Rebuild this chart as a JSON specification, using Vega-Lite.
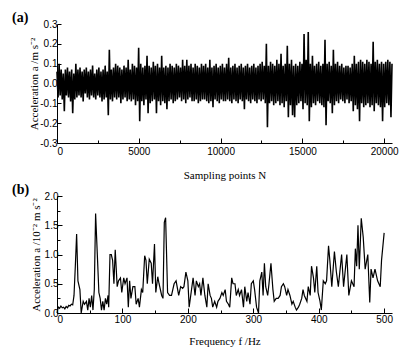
{
"$schema": "https://vega.github.io/schema/vega-lite/v6.json",
"background": "white",
"padding": {"left": 12, "top": 11, "right": 5, "bottom": 5},
"config": {
  "view": {"stroke": null},
  "font": "Liberation Serif",
  "axis": {"domainColor": "black", "tickColor": "black", "labelColor": "black", "titleColor": "black", "labelFont": "Liberation Sans", "labelFontSize": 10, "titleFont": "Liberation Serif", "titleFontSize": 11, "titleFontWeight": "normal", "grid": false, "domainWidth": 1, "tickWidth": 1},
  "title": {"font": "Liberation Serif", "fontSize": 14, "fontWeight": "bold", "anchor": "start", "frame": "group", "color": "black"},
  "concat": {"spacing": 3}
},
"vconcat": [
{
  "width": 335, "height": 119,
  "title": {"text": "(a)", "dx": -45, "offset": -6},
  "data": {"values": [
{"n":0,"a":0.06},{"n":64,"a":-0.07},{"n":128,"a":0.10},{"n":192,"a":-0.06},{"n":256,"a":0.07},{"n":320,"a":-0.08},{"n":384,"a":0.05},{"n":448,"a":-0.14},{"n":512,"a":0.07},{"n":576,"a":-0.06},
{"n":640,"a":0.08},{"n":704,"a":-0.07},{"n":768,"a":0.06},{"n":832,"a":-0.09},{"n":896,"a":0.07},{"n":960,"a":-0.15},{"n":1024,"a":0.05},{"n":1088,"a":-0.08},{"n":1152,"a":0.10},{"n":1216,"a":-0.07},
{"n":1280,"a":0.07},{"n":1344,"a":-0.06},{"n":1408,"a":0.08},{"n":1472,"a":-0.07},{"n":1536,"a":0.06},{"n":1600,"a":-0.09},{"n":1664,"a":0.07},{"n":1728,"a":-0.05},{"n":1792,"a":0.08},{"n":1856,"a":-0.07},
{"n":1920,"a":0.06},{"n":1984,"a":-0.08},{"n":2048,"a":0.07},{"n":2112,"a":-0.06},{"n":2176,"a":0.09},{"n":2240,"a":-0.07},{"n":2304,"a":0.05},{"n":2368,"a":-0.08},{"n":2432,"a":0.07},{"n":2496,"a":-0.06},
{"n":2560,"a":0.08},{"n":2624,"a":-0.07},{"n":2688,"a":0.06},{"n":2752,"a":-0.09},{"n":2816,"a":0.07},{"n":2880,"a":-0.08},{"n":2944,"a":0.09},{"n":3008,"a":-0.07},{"n":3072,"a":0.06},{"n":3136,"a":-0.16},
{"n":3200,"a":0.17},{"n":3264,"a":-0.08},{"n":3328,"a":0.07},{"n":3392,"a":-0.09},{"n":3456,"a":0.08},{"n":3520,"a":-0.07},{"n":3584,"a":0.10},{"n":3648,"a":-0.08},{"n":3712,"a":0.09},{"n":3776,"a":-0.07},
{"n":3840,"a":0.08},{"n":3904,"a":-0.10},{"n":3968,"a":0.07},{"n":4032,"a":-0.08},{"n":4096,"a":0.09},{"n":4160,"a":-0.07},{"n":4224,"a":0.08},{"n":4288,"a":-0.09},{"n":4352,"a":0.12},{"n":4416,"a":-0.08},
{"n":4480,"a":0.07},{"n":4544,"a":-0.09},{"n":4608,"a":0.10},{"n":4672,"a":-0.08},{"n":4736,"a":0.09},{"n":4800,"a":-0.11},{"n":4864,"a":0.08},{"n":4928,"a":-0.09},{"n":4992,"a":0.18},{"n":5056,"a":-0.19},
{"n":5120,"a":0.10},{"n":5184,"a":-0.09},{"n":5248,"a":0.08},{"n":5312,"a":-0.11},{"n":5376,"a":0.09},{"n":5440,"a":-0.08},{"n":5504,"a":0.14},{"n":5568,"a":-0.15},{"n":5632,"a":0.09},{"n":5696,"a":-0.10},
{"n":5760,"a":0.08},{"n":5824,"a":-0.09},{"n":5888,"a":0.11},{"n":5952,"a":-0.08},{"n":6016,"a":0.09},{"n":6080,"a":-0.15},{"n":6144,"a":0.10},{"n":6208,"a":-0.09},{"n":6272,"a":0.08},{"n":6336,"a":-0.11},
{"n":6400,"a":0.14},{"n":6464,"a":-0.09},{"n":6528,"a":0.08},{"n":6592,"a":-0.10},{"n":6656,"a":0.09},{"n":6720,"a":-0.13},{"n":6784,"a":0.08},{"n":6848,"a":-0.09},{"n":6912,"a":0.10},{"n":6976,"a":-0.08},
{"n":7040,"a":0.09},{"n":7104,"a":-0.10},{"n":7168,"a":0.08},{"n":7232,"a":-0.09},{"n":7296,"a":0.10},{"n":7360,"a":-0.08},{"n":7424,"a":0.09},{"n":7488,"a":-0.07},{"n":7552,"a":0.08},{"n":7616,"a":-0.09},
{"n":7680,"a":0.12},{"n":7744,"a":-0.08},{"n":7808,"a":0.09},{"n":7872,"a":-0.10},{"n":7936,"a":0.12},{"n":8000,"a":-0.08},{"n":8064,"a":0.09},{"n":8128,"a":-0.07},{"n":8192,"a":0.10},{"n":8256,"a":-0.09},
{"n":8320,"a":0.08},{"n":8384,"a":-0.09},{"n":8448,"a":0.10},{"n":8512,"a":-0.08},{"n":8576,"a":0.09},{"n":8640,"a":-0.10},{"n":8704,"a":0.08},{"n":8768,"a":-0.09},{"n":8832,"a":0.10},{"n":8896,"a":-0.08},
{"n":8960,"a":0.09},{"n":9024,"a":-0.08},{"n":9088,"a":0.10},{"n":9152,"a":-0.09},{"n":9216,"a":0.08},{"n":9280,"a":-0.10},{"n":9344,"a":0.12},{"n":9408,"a":-0.09},{"n":9472,"a":0.08},{"n":9536,"a":-0.12},
{"n":9600,"a":0.09},{"n":9664,"a":-0.08},{"n":9728,"a":0.10},{"n":9792,"a":-0.09},{"n":9856,"a":0.08},{"n":9920,"a":-0.10},{"n":9984,"a":0.09},{"n":10048,"a":-0.08},{"n":10112,"a":0.10},{"n":10176,"a":-0.09},
{"n":10240,"a":0.08},{"n":10304,"a":-0.09},{"n":10368,"a":0.10},{"n":10432,"a":-0.08},{"n":10496,"a":0.13},{"n":10560,"a":-0.09},{"n":10624,"a":0.08},{"n":10688,"a":-0.10},{"n":10752,"a":0.09},{"n":10816,"a":-0.08},
{"n":10880,"a":0.10},{"n":10944,"a":-0.09},{"n":11008,"a":0.08},{"n":11072,"a":-0.10},{"n":11136,"a":0.09},{"n":11200,"a":-0.08},{"n":11264,"a":0.10},{"n":11328,"a":-0.09},{"n":11392,"a":0.08},{"n":11456,"a":-0.13},
{"n":11520,"a":0.09},{"n":11584,"a":-0.08},{"n":11648,"a":0.10},{"n":11712,"a":-0.09},{"n":11776,"a":0.08},{"n":11840,"a":-0.10},{"n":11904,"a":0.09},{"n":11968,"a":-0.08},{"n":12032,"a":0.10},{"n":12096,"a":-0.09},
{"n":12160,"a":0.08},{"n":12224,"a":-0.10},{"n":12288,"a":0.09},{"n":12352,"a":-0.08},{"n":12416,"a":0.10},{"n":12480,"a":-0.09},{"n":12544,"a":0.11},{"n":12608,"a":-0.08},{"n":12672,"a":0.09},{"n":12736,"a":-0.10},
{"n":12800,"a":0.20},{"n":12864,"a":-0.22},{"n":12928,"a":0.09},{"n":12992,"a":-0.10},{"n":13056,"a":0.11},{"n":13120,"a":-0.09},{"n":13184,"a":0.10},{"n":13248,"a":-0.11},{"n":13312,"a":0.09},{"n":13376,"a":-0.10},
{"n":13440,"a":0.12},{"n":13504,"a":-0.09},{"n":13568,"a":0.10},{"n":13632,"a":-0.11},{"n":13696,"a":0.15},{"n":13760,"a":-0.10},{"n":13824,"a":0.09},{"n":13888,"a":-0.12},{"n":13952,"a":0.10},{"n":14016,"a":-0.09},
{"n":14080,"a":0.19},{"n":14144,"a":-0.17},{"n":14208,"a":0.10},{"n":14272,"a":-0.11},{"n":14336,"a":0.12},{"n":14400,"a":-0.16},{"n":14464,"a":0.09},{"n":14528,"a":-0.17},{"n":14592,"a":0.10},{"n":14656,"a":-0.11},
{"n":14720,"a":0.09},{"n":14784,"a":-0.10},{"n":14848,"a":0.11},{"n":14912,"a":-0.09},{"n":14976,"a":0.10},{"n":15040,"a":-0.13},{"n":15104,"a":0.25},{"n":15168,"a":-0.10},{"n":15232,"a":0.12},{"n":15296,"a":-0.11},
{"n":15360,"a":0.26},{"n":15424,"a":-0.19},{"n":15488,"a":0.10},{"n":15552,"a":-0.12},{"n":15616,"a":0.14},{"n":15680,"a":-0.10},{"n":15744,"a":0.09},{"n":15808,"a":-0.11},{"n":15872,"a":0.10},{"n":15936,"a":-0.09},
{"n":16000,"a":0.11},{"n":16064,"a":-0.10},{"n":16128,"a":0.09},{"n":16192,"a":-0.11},{"n":16256,"a":0.10},{"n":16320,"a":-0.12},{"n":16384,"a":0.22},{"n":16448,"a":-0.21},{"n":16512,"a":0.10},{"n":16576,"a":-0.09},
{"n":16640,"a":0.11},{"n":16704,"a":-0.10},{"n":16768,"a":0.09},{"n":16832,"a":-0.15},{"n":16896,"a":0.17},{"n":16960,"a":-0.11},{"n":17024,"a":0.10},{"n":17088,"a":-0.09},{"n":17152,"a":0.11},{"n":17216,"a":-0.10},
{"n":17280,"a":0.09},{"n":17344,"a":-0.08},{"n":17408,"a":0.10},{"n":17472,"a":-0.09},{"n":17536,"a":0.08},{"n":17600,"a":-0.10},{"n":17664,"a":0.09},{"n":17728,"a":-0.08},{"n":17792,"a":0.09},{"n":17856,"a":-0.10},
{"n":17920,"a":0.08},{"n":17984,"a":-0.09},{"n":18048,"a":0.10},{"n":18112,"a":-0.14},{"n":18176,"a":0.14},{"n":18240,"a":-0.11},{"n":18304,"a":0.10},{"n":18368,"a":-0.13},{"n":18432,"a":0.11},{"n":18496,"a":-0.19},
{"n":18560,"a":0.12},{"n":18624,"a":-0.10},{"n":18688,"a":0.11},{"n":18752,"a":-0.12},{"n":18816,"a":0.10},{"n":18880,"a":-0.11},{"n":18944,"a":0.12},{"n":19008,"a":-0.10},{"n":19072,"a":0.11},{"n":19136,"a":-0.12},
{"n":19200,"a":0.10},{"n":19264,"a":-0.11},{"n":19328,"a":0.21},{"n":19392,"a":-0.14},{"n":19456,"a":0.11},{"n":19520,"a":-0.10},{"n":19584,"a":0.12},{"n":19648,"a":-0.11},{"n":19712,"a":0.10},{"n":19776,"a":-0.12},
{"n":19840,"a":0.11},{"n":19904,"a":-0.19},{"n":19968,"a":0.10},{"n":20032,"a":-0.12},{"n":20096,"a":0.11},{"n":20160,"a":-0.10},{"n":20224,"a":0.12},{"n":20288,"a":-0.11},{"n":20352,"a":0.11},{"n":20416,"a":-0.17},
{"n":20480,"a":0.10}
  ]},
  "mark": {"type": "line", "color": "black", "strokeWidth": 1.6},
  "encoding": {
    "x": {"field": "n", "type": "quantitative", "scale": {"domain": [0, 20480], "nice": false},
      "axis": {"title": "Sampling points N", "values": [0,2500,5000,7500,10000,12500,15000,17500,20000], "format": "d",
        "labelExpr": "datum.value % 5000 === 0 ? datum.label : ''",
        "tickSize": {"condition": {"test": "datum.value % 5000 === 0", "value": -5}, "value": -3},
        "labelPadding": 8, "titlePadding": 13}},
    "y": {"field": "a", "type": "quantitative", "scale": {"domain": [-0.3, 0.3], "nice": false},
      "axis": {"title": "Acceleration a /m s⁻²", "values": [-0.3,-0.2,-0.1,0,0.1,0.2,0.3], "format": ".1f",
        "labelExpr": "replace(datum.label, '−', '-')", "tickSize": -4, "labelPadding": 4, "titlePadding": 0}}
  }
},
{
  "width": 335, "height": 117,
  "title": {"text": "(b)", "dx": -45, "offset": -6},
  "data": {"values": [
{"f":0,"v":0.0},{"f":2,"v":0.1},{"f":4,"v":0.08},{"f":6,"v":0.12},{"f":8,"v":0.09},{"f":10,"v":0.1},{"f":12,"v":0.07},{"f":14,"v":0.11},{"f":16,"v":0.09},{"f":18,"v":0.13},
{"f":20,"v":0.12},{"f":22,"v":0.15},{"f":24,"v":0.14},{"f":26,"v":0.3},{"f":28,"v":0.8},{"f":30,"v":1.35},{"f":32,"v":0.55},{"f":35,"v":0.4},{"f":37,"v":0.0},{"f":40,"v":0.2},
{"f":42,"v":0.15},{"f":45,"v":0.2},{"f":47,"v":0.05},{"f":49,"v":0.25},{"f":51,"v":0.1},{"f":53,"v":0.3},{"f":55,"v":0.05},{"f":57,"v":0.4},{"f":59,"v":1.7},{"f":62,"v":0.9},
{"f":64,"v":0.35},{"f":66,"v":0.25},{"f":68,"v":0.05},{"f":70,"v":0.2},{"f":72,"v":0.05},{"f":74,"v":0.25},{"f":76,"v":0.15},{"f":78,"v":0.3},{"f":79,"v":0.1},{"f":81,"v":1.0},
{"f":83,"v":1.0},{"f":85,"v":0.9},{"f":87,"v":0.5},{"f":89,"v":1.08},{"f":92,"v":0.45},{"f":94,"v":0.55},{"f":97,"v":0.6},{"f":99,"v":0.35},{"f":102,"v":0.6},{"f":104,"v":0.5},
{"f":107,"v":0.6},{"f":109,"v":0.1},{"f":111,"v":0.55},{"f":113,"v":0.25},{"f":116,"v":0.45},{"f":119,"v":0.45},{"f":121,"v":0.15},{"f":124,"v":0.25},{"f":126,"v":0.1},{"f":129,"v":0.4},
{"f":131,"v":0.35},{"f":134,"v":0.98},{"f":136,"v":0.9},{"f":138,"v":0.5},{"f":141,"v":0.92},{"f":144,"v":0.85},{"f":146,"v":0.5},{"f":149,"v":1.18},{"f":151,"v":0.35},{"f":154,"v":0.62},
{"f":156,"v":0.5},{"f":160,"v":0.3},{"f":162,"v":0.25},{"f":164,"v":1.55},{"f":166,"v":1.63},{"f":169,"v":0.35},{"f":172,"v":0.3},{"f":175,"v":0.3},{"f":179,"v":0.5},{"f":182,"v":0.55},
{"f":186,"v":0.3},{"f":189,"v":0.45},{"f":192,"v":0.42},{"f":194,"v":0.45},{"f":197,"v":0.7},{"f":200,"v":0.55},{"f":202,"v":0.1},{"f":205,"v":0.35},{"f":208,"v":0.6},{"f":211,"v":0.3},
{"f":213,"v":0.55},{"f":216,"v":0.45},{"f":218,"v":0.5},{"f":220,"v":0.3},{"f":223,"v":0.6},{"f":226,"v":0.3},{"f":229,"v":0.1},{"f":231,"v":0.5},{"f":234,"v":0.3},{"f":236,"v":0.25},
{"f":238,"v":0.1},{"f":241,"v":0.2},{"f":244,"v":0.1},{"f":246,"v":0.2},{"f":249,"v":0.25},{"f":252,"v":0.35},{"f":254,"v":0.3},{"f":257,"v":0.4},{"f":259,"v":0.2},{"f":262,"v":0.15},
{"f":264,"v":0.1},{"f":267,"v":0.6},{"f":269,"v":0.5},{"f":272,"v":0.5},{"f":274,"v":0.3},{"f":277,"v":0.4},{"f":279,"v":0.3},{"f":282,"v":0.4},{"f":285,"v":0.1},{"f":287,"v":0.45},
{"f":290,"v":0.2},{"f":292,"v":0.35},{"f":295,"v":0.15},{"f":297,"v":0.5},{"f":300,"v":0.55},{"f":302,"v":0.4},{"f":305,"v":0.1},{"f":308,"v":0.0},{"f":310,"v":0.55},{"f":313,"v":0.7},
{"f":315,"v":0.3},{"f":317,"v":0.85},{"f":319,"v":0.45},{"f":322,"v":0.3},{"f":324,"v":0.5},{"f":327,"v":0.85},{"f":330,"v":0.4},{"f":332,"v":0.2},{"f":335,"v":0.25},{"f":338,"v":0.25},
{"f":341,"v":0.3},{"f":343,"v":0.45},{"f":346,"v":0.5},{"f":348,"v":0.45},{"f":351,"v":0.3},{"f":353,"v":0.4},{"f":356,"v":0.3},{"f":359,"v":0.15},{"f":361,"v":0.2},{"f":364,"v":0.1},
{"f":366,"v":0.05},{"f":369,"v":0.1},{"f":371,"v":0.15},{"f":374,"v":0.25},{"f":376,"v":0.4},{"f":378,"v":0.3},{"f":382,"v":0.2},{"f":384,"v":0.45},{"f":387,"v":0.3},{"f":389,"v":0.8},
{"f":392,"v":0.6},{"f":394,"v":0.35},{"f":397,"v":0.8},{"f":399,"v":0.35},{"f":402,"v":0.2},{"f":404,"v":0.05},{"f":407,"v":0.55},{"f":410,"v":0.5},{"f":412,"v":0.55},{"f":415,"v":1.15},
{"f":417,"v":0.9},{"f":420,"v":0.45},{"f":424,"v":1.05},{"f":427,"v":0.7},{"f":430,"v":0.45},{"f":435,"v":1.0},{"f":438,"v":0.45},{"f":443,"v":1.0},{"f":446,"v":0.3},{"f":450,"v":0.55},
{"f":454,"v":0.45},{"f":456,"v":1.1},{"f":458,"v":0.8},{"f":460,"v":1.5},{"f":462,"v":0.75},{"f":465,"v":1.62},{"f":468,"v":1.3},{"f":471,"v":0.75},{"f":475,"v":1.0},{"f":478,"v":0.18},
{"f":480,"v":0.75},{"f":483,"v":0.6},{"f":486,"v":0.75},{"f":490,"v":0.55},{"f":494,"v":0.45},{"f":496,"v":0.9},{"f":500,"v":1.37}
  ]},
  "mark": {"type": "line", "color": "black", "strokeWidth": 1.2},
  "encoding": {
    "x": {"field": "f", "type": "quantitative", "scale": {"domain": [0, 512], "nice": false},
      "axis": {"title": "Frequency f /Hz", "values": [0,50,100,150,200,250,300,350,400,450,500], "format": "d",
        "labelExpr": "datum.value % 100 === 0 ? datum.label : ''",
        "tickSize": {"condition": {"test": "datum.value % 100 === 0", "value": -5}, "value": -3},
        "labelPadding": 6, "titlePadding": 11}},
    "y": {"field": "v", "type": "quantitative", "scale": {"domain": [0, 2], "nice": false},
      "axis": {"title": "Acceleration a /10⁻² m s⁻²", "values": [0,0.25,0.5,0.75,1,1.25,1.5,1.75,2], "format": ".1f",
        "labelExpr": "datum.value % 0.5 === 0 ? datum.label : ''",
        "tickSize": {"condition": {"test": "datum.value % 0.5 === 0", "value": -5}, "value": -3},
        "labelPadding": 4, "titlePadding": 3}}
  }
}
]
}
